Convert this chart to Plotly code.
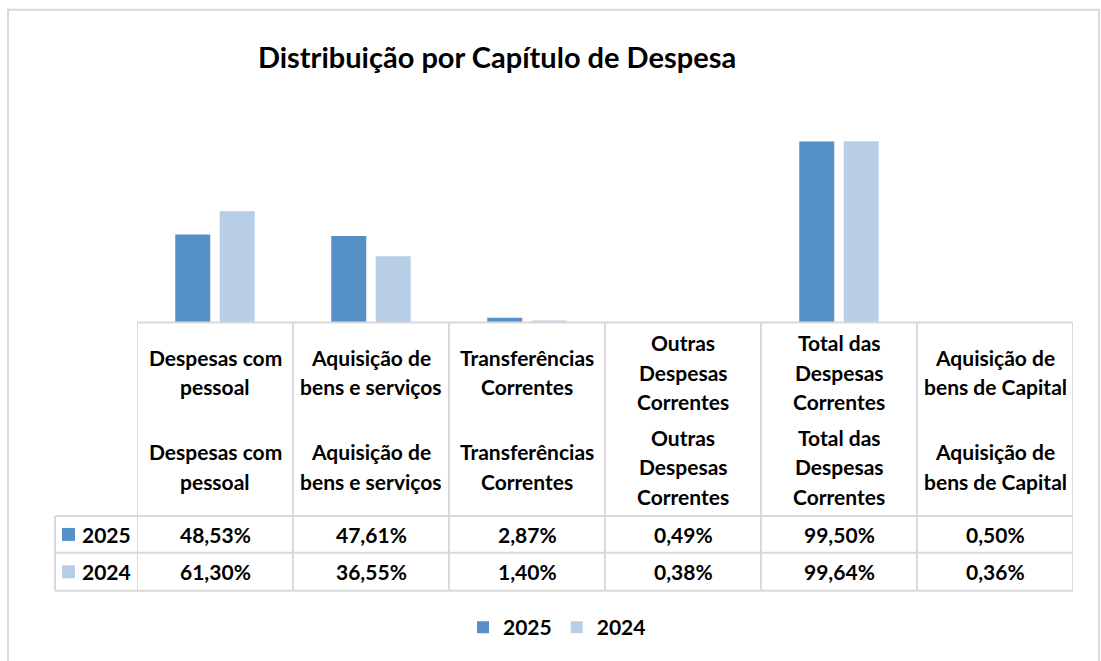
import plotly.graph_objects as go

# ---- data ----
categories = [
    "Despesas com\npessoal",
    "Aquisição de\nbens e serviços",
    "Transferências\nCorrentes",
    "Outras\nDespesas\nCorrentes",
    "Total das\nDespesas\nCorrentes",
    "Aquisição de\nbens de Capital",
]
series_names = ["2025", "2024"]
values_2025 = [48.53, 47.61, 2.87, 0.49, 99.50, 0.50]
values_2024 = [61.30, 36.55, 1.40, 0.38, 99.64, 0.36]
colors = ["#5590C7", "#B8CDE6"]
title_text = "Distribuição por Capítulo de Despesa"

# ---- layout geometry (pixels) ----
W, H = 1101, 661
PL, PR = 137, 1073          # plot area left/right
PT, PB = 103.5, 323.3       # plot area top/bottom (y range 0..120)
FONT = "Lato"
GRID = "#D9D9D9"


def py(p):
    """pixel y -> paper y"""
    return (PB - p) / (PB - PT)


def px(p):
    """pixel x -> paper x"""
    return (p - PL) / (PR - PL)


xcats = [c.replace("\n", " ") for c in categories]
series_values = [values_2025, values_2024]

fig = go.Figure()
for name, vals, col in zip(series_names, series_values, colors):
    fig.add_trace(go.Bar(
        x=xcats, y=vals, name="<b>%s</b>" % name,
        marker=dict(color=col, line=dict(width=0)),
        hovertemplate="%{x}: %{y:.2f}%<extra>" + name + "</extra>",
    ))

shapes = []
annotations = []

# outer chart border
shapes.append(dict(type="rect", xref="paper", yref="paper",
                   x0=px(8), x1=px(1099), y0=py(680), y1=py(9),
                   line=dict(color=GRID, width=2), fillcolor="rgba(0,0,0,0)",
                   layer="below"))

# table grid
n = len(categories)
for i in range(n + 1):
    shapes.append(dict(type="line", xref="x", yref="paper",
                       x0=i - 0.5, x1=i - 0.5, y0=py(323), y1=py(592),
                       line=dict(color=GRID, width=2)))
shapes.append(dict(type="line", xref="x", yref="paper",
                   x0=-0.5, x1=n - 0.5, y0=py(322.8), y1=py(322.8),
                   line=dict(color=GRID, width=2.2)))
for yy in (517, 554, 592):
    shapes.append(dict(type="line", xref="paper", yref="paper",
                       x0=px(55), x1=px(PR), y0=py(yy), y1=py(yy),
                       line=dict(color=GRID, width=2)))
shapes.append(dict(type="line", xref="paper", yref="paper",
                   x0=px(55), x1=px(55), y0=py(517), y1=py(592),
                   line=dict(color=GRID, width=2)))

hfont = dict(family=FONT, size=21, color="#000000")
vfont = dict(family=FONT, size=21, color="#000000")

# header category labels (two repeated blocks)
LS = 29.5
for block_center in (372.5, 467.5):
    for i, lab in enumerate(categories):
        lines = lab.split("\n")
        k = len(lines)
        for j, ln in enumerate(lines):
            yc = block_center + (j - (k - 1) / 2) * LS
            annotations.append(dict(x=i, xref="x", y=py(yc), yref="paper",
                                    text="<b>%s</b>" % ln, showarrow=False,
                                    xanchor="center", yanchor="middle",
                                    font=hfont))

# value rows
row_y = [535.5, 573]
for r, (name, vals, col) in enumerate(zip(series_names, series_values, colors)):
    yc = row_y[r]
    for i, v in enumerate(vals):
        s = ("%.2f" % v).replace(".", ",") + "%"
        annotations.append(dict(x=i, xref="x", y=py(yc), yref="paper",
                                text="<b>%s</b>" % s, showarrow=False,
                                xanchor="center", yanchor="middle", font=vfont))
    shapes.append(dict(type="rect", xref="paper", yref="paper",
                       x0=px(62), x1=px(75), y0=py(yc + 6.5), y1=py(yc - 6.5),
                       fillcolor=col, line=dict(width=0)))
    annotations.append(dict(x=px(80), xref="paper", y=py(yc), yref="paper",
                            text="<b>%s</b>" % name, showarrow=False,
                            xanchor="left", yanchor="middle", font=vfont))

fig.update_layout(
    width=W, height=H, autosize=False,
    margin=dict(l=PL, r=W - PR, t=PT, b=H - PB, pad=0),
    paper_bgcolor="white", plot_bgcolor="white",
    barmode="group", bargap=0.43, bargroupgap=0.213,
    title=dict(text="<b>%s</b>" % title_text, x=px(497), xref="paper",
               xanchor="center", y=1 - 58 / H, yanchor="middle",
               font=dict(family=FONT, size=29, color="#000000")),
    xaxis=dict(showticklabels=False, showgrid=False, zeroline=False,
               showline=False, ticks="", range=[-0.5, n - 0.5]),
    yaxis=dict(range=[0, 120], visible=False, showgrid=False, zeroline=False),
    showlegend=True,
    legend=dict(orientation="h", x=px(557), xanchor="center",
                y=py(629), yanchor="middle",
                font=dict(family=FONT, size=21, color="#000000"),
                traceorder="normal", itemclick=False),
    shapes=shapes, annotations=annotations,
)

fig.write_html("out.html",
               config={"displayModeBar": False},
               post_script="document.body.style.margin='0';")
